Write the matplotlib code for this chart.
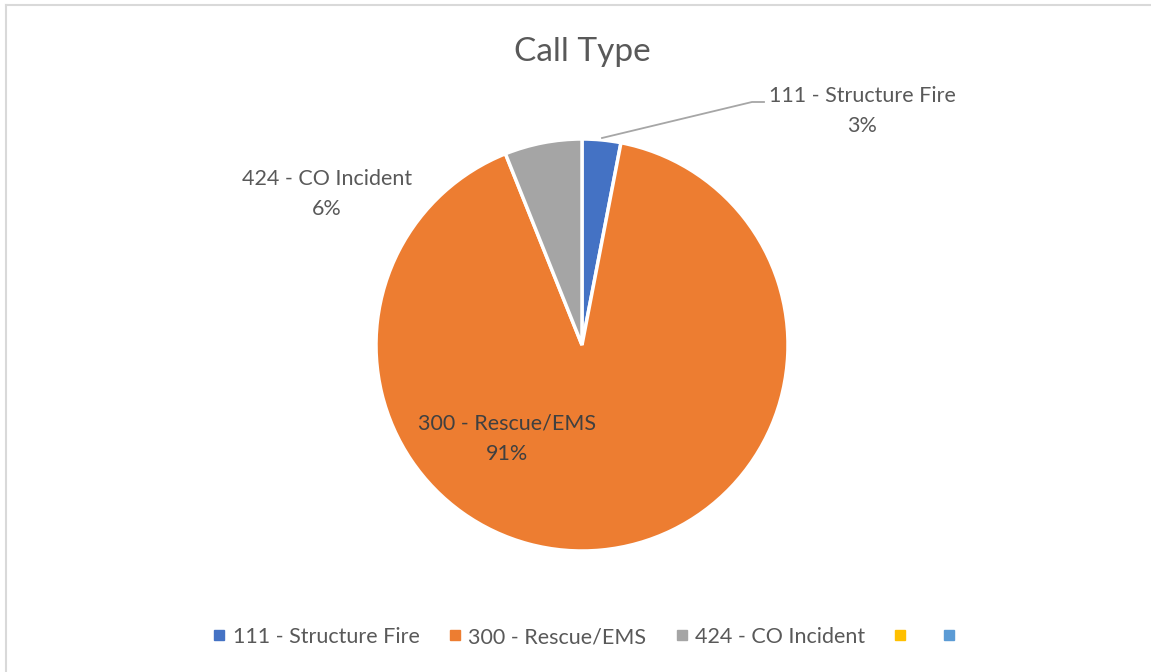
import matplotlib
matplotlib.use("Agg")
import matplotlib.pyplot as plt
from matplotlib.lines import Line2D
import numpy as np

categories = ["111 - Structure Fire", "300 - Rescue/EMS", "424 - CO Incident", "", ""]
counts = [1, 30, 2, 0, 0]
colors = ["#4472C4", "#ED7D31", "#A5A5A5", "#FFC000", "#5B9BD5"]
title = "Call Type"

W, H = 1151, 672
fig = plt.figure(figsize=(W / 100, H / 100), dpi=100)
FONT = ["Lato", "DejaVu Sans"]
TXT = "#595959"

# chart border (only top and left edges fall inside the image)
fig.add_artist(Line2D([5.5 / W, 5.5 / W], [0, 1 - 4.5 / H], transform=fig.transFigure,
                      color="#D9D9D9", lw=1.5))
fig.add_artist(Line2D([5.5 / W, 1], [1 - 4.5 / H, 1 - 4.5 / H], transform=fig.transFigure,
                      color="#D9D9D9", lw=1.5))

cx, cy, r = 582, 345, 206
ax = fig.add_axes([(cx - r) / W, (H - cy - r) / H, 2 * r / W, 2 * r / H])
vals = [v for v in counts if v > 0]
cols = [c for v, c in zip(counts, colors) if v > 0]
labs = [l for v, l in zip(counts, categories) if v > 0]
wedges, _ = ax.pie(vals, colors=cols, startangle=90, counterclock=False,
                   wedgeprops=dict(edgecolor="white", linewidth=2.5), radius=1)
ax.set_xlim(-1, 1)
ax.set_ylim(-1, 1)
ax.set_aspect("equal")
ax.axis("off")

total = sum(vals)
pcts = [f"{round(100 * v / total)}%" for v in vals]

def px(x, y):
    # pixel -> data coords of pie axes
    return ((x - cx) / r, (cy - y) / r)

label_pos = {
    0: (862, 111),
    1: (507, 439),
    2: (327, 194),
}
label_col = {0: TXT, 1: "#404040", 2: TXT}
for i, (lab, p) in enumerate(zip(labs, pcts)):
    x, y = px(*label_pos[i])
    ax.text(x, y, f"{lab}\n{p}", ha="center", va="center", color=label_col[i],
            fontsize=15.5, family=FONT, linespacing=1.65, clip_on=False)

# leader line for small slice
lx = [px(602, 138), px(752, 102), px(764, 102)]
ax.plot([p[0] for p in lx], [p[1] for p in lx], color="#A6A6A6", lw=1.3, clip_on=False)

fig.text(582 / W, 1 - 52 / H, title, ha="center", va="center", fontsize=24,
         color=TXT, family=FONT)

handles = [Line2D([], [], marker="s", linestyle="", color=c, markersize=7) for c in colors]
leg = fig.legend(handles, categories, loc="center",
                 bbox_to_anchor=(588 / W, 1 - 637 / H), ncol=5, frameon=False,
                 handlelength=0.55, handletextpad=0.35, columnspacing=1.36,
                 prop=dict(family=FONT, size=15.5))
for t in leg.get_texts():
    t.set_color(TXT)

fig.savefig("out.png", dpi=100)
